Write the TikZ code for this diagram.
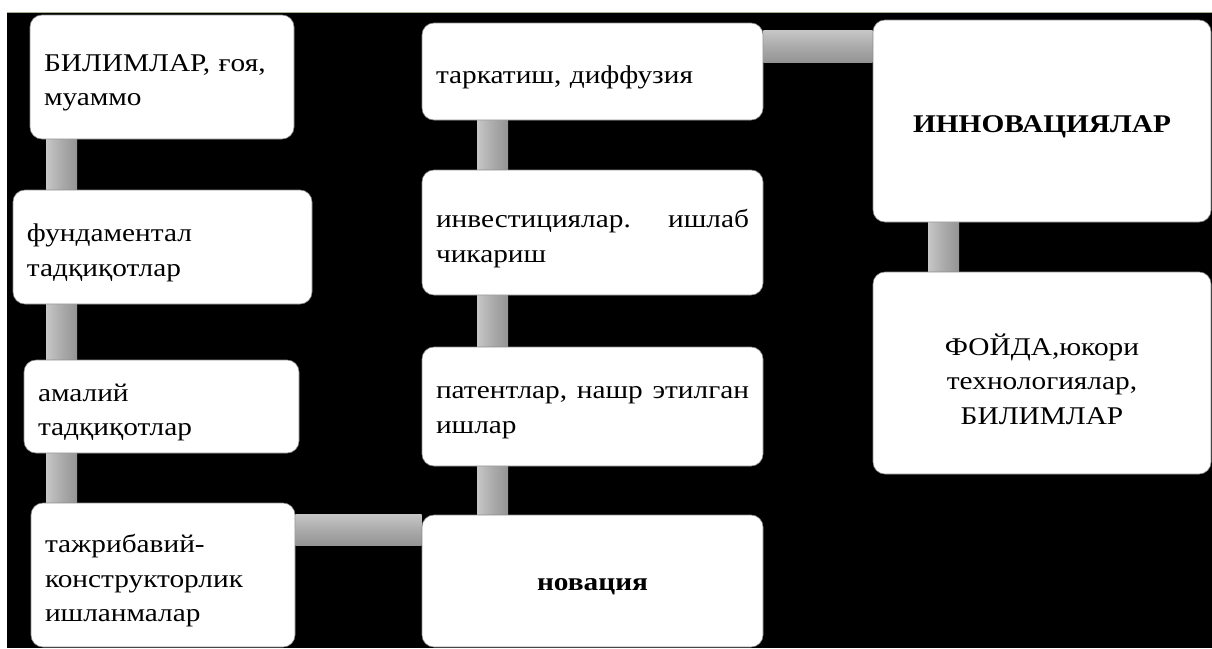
\documentclass[tikz,border=0pt]{standalone}
\usepackage{fontspec}
\setmainfont{Liberation Serif}[FakeStretch=1.15]
\pgfdeclarelayer{background}
\pgfsetlayers{background,main}
\begin{document}
\begin{tikzpicture}[x=1pt,y=-1pt,
  box/.style={fill=white, draw=black!45, line width=0.6pt, rounded corners=12pt,
    inner sep=0pt},
  txt/.style={inner xsep=14pt, inner ysep=0pt, align=left, yshift=-6pt,
    font=\fontsize{25.5}{34.5}\selectfont},
  ctxt/.style={txt, align=center},
  vbar/.style={left color=black!22, right color=black!42, middle color=black!33},
  hbar/.style={top color=black!22, bottom color=black!42, middle color=black!33}]
\useasboundingbox (0,0) rectangle (1212,648);

% column / row positions of the connectors
\coordinate (L1) at (46,0);  \coordinate (L2) at (77,0);
\coordinate (M1) at (477,0); \coordinate (M2) at (508,0);
\coordinate (R1) at (928,0); \coordinate (R2) at (959,0);
\coordinate (H1) at (0,514); \coordinate (H2) at (0,545);
\coordinate (T1) at (0,30);  \coordinate (T2) at (0,62);

% boxes
\node[box, minimum width=264pt, minimum height=124pt] (b1) at (162,77) {};
\node[box, minimum width=299pt, minimum height=114pt] (b2) at (162.5,247) {};
\node[box, minimum width=275pt, minimum height=93pt] (b3) at (161.5,406.5) {};
\node[box, minimum width=264pt, minimum height=144pt] (b4) at (163,575) {};
\node[box, minimum width=341pt, minimum height=97pt] (b5) at (592.5,71.5) {};
\node[box, minimum width=341pt, minimum height=125pt] (b6) at (592.5,232.5) {};
\node[box, minimum width=341pt, minimum height=119pt] (b7) at (592.5,406.5) {};
\node[box, minimum width=341pt, minimum height=132pt] (b8) at (592.5,581) {};
\node[box, minimum width=338pt, minimum height=202pt] (b9) at (1042,121) {};
\node[box, minimum width=338pt, minimum height=202pt] (b10) at (1042,373) {};

% texts
\node[txt, text width=236pt] (t1) at (b1.center) {БИЛИМЛАР, ғоя,\\муаммо};
\node[txt, text width=271pt] (t2) at (b2.center) {фундаментал\\тадқиқотлар};
\node[txt, text width=247pt] (t3) at (b3.center) {амалий\\тадқиқотлар};
\node[txt, text width=236pt] (t4) at (b4.center) {тажрибавий-\\конструкторлик\\ишланмалар};
\node[txt, text width=313pt] (t5) at (b5.center) {таркатиш, диффузия};
\node[txt, text width=313pt] (t6) at (b6.center) {\makebox[313pt]{инвестициялар.\hfill ишлаб}\\чикариш};
\node[txt, text width=313pt] (t7) at (b7.center) {\makebox[313pt]{патентлар,\hfill нашр\hfill этилган}\\ишлар};
\node[ctxt, text width=313pt] (t8) at (b8.center) {\textbf{новация}};
\node[ctxt, text width=310pt] (t9) at (b9.center) {\textbf{ИННОВАЦИЯЛАР}};
\node[ctxt, text width=310pt] (t10) at (b10.center) {ФОЙДА,юкори\\технологиялар,\\БИЛИМЛАР};

% background and connectors (behind the boxes)
\begin{pgfonlayer}{background}
\fill[white] (0,0) rectangle (1212,648);
\fill[black] (7,12) rectangle (1212,648);
\draw[line width=1pt, color={rgb,255:red,165;green,175;blue,145}] (7,12.5) -- (1212,12.5);
\shade[vbar] (b1.south -| L1) rectangle (b2.north -| L2);
\shade[vbar] (b2.south -| L1) rectangle (b3.north -| L2);
\shade[vbar] (b3.south -| L1) rectangle (b4.north -| L2);
\shade[vbar] (b5.south -| M1) rectangle (b6.north -| M2);
\shade[vbar] (b6.south -| M1) rectangle (b7.north -| M2);
\shade[vbar] (b7.south -| M1) rectangle (b8.north -| M2);
\shade[vbar] (b9.south -| R1) rectangle (b10.north -| R2);
\shade[hbar] (b4.east |- H1) rectangle (b8.west |- H2);
\shade[hbar] (b5.east |- T1) rectangle (b9.west |- T2);
\end{pgfonlayer}
\end{tikzpicture}
\end{document}
